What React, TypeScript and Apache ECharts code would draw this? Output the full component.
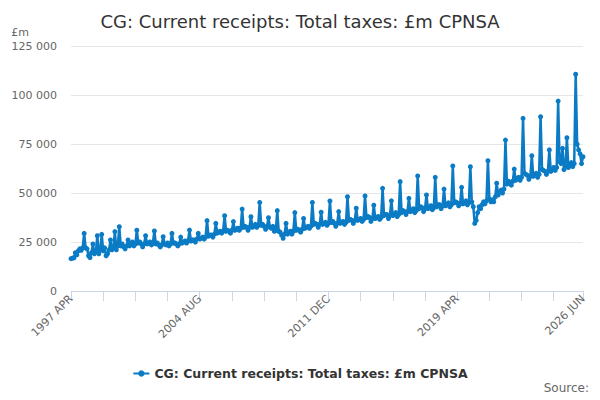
import { useEffect, useRef } from 'react';
import * as echarts from 'echarts';

// monthly series, April 1997 to June 2026 (£m, not seasonally adjusted)
const startYear = 1997;
const startMonth = 3; // APR
const monthNames = ['JAN', 'FEB', 'MAR', 'APR', 'MAY', 'JUN', 'JUL', 'AUG', 'SEP', 'OCT', 'NOV', 'DEC'];

// one row per financial year: Apr May Jun Jul Aug Sep Oct Nov Dec Jan Feb Mar (thousand £m)
const fy1997 = [16.5, 16.8, 16.9, 19.5, 18.5, 20.5, 21.5, 20.8, 22.0, 29.4, 22.0, 21.5];
const fy1998 = [18.0, 17.0, 19.5, 24.0, 19.0, 20.0, 28.2, 19.0, 21.0, 28.9, 20.5, 22.0];
const fy1999 = [18.0, 19.0, 21.0, 26.0, 21.0, 22.0, 30.3, 21.0, 23.0, 32.8, 23.0, 24.0];
const fy2000 = [22.5, 21.5, 23.0, 26.0, 23.0, 24.0, 25.0, 23.0, 24.0, 31.0, 24.5, 25.0];
const fy2001 = [24.0, 22.5, 24.0, 28.2, 24.0, 24.5, 25.0, 23.5, 24.5, 30.6, 24.0, 24.5];
const fy2002 = [23.5, 22.5, 23.5, 27.7, 24.0, 23.5, 24.5, 23.0, 24.0, 29.4, 24.5, 24.5];
const fy2003 = [24.0, 23.0, 24.0, 27.5, 24.5, 25.0, 25.5, 24.5, 25.5, 31.1, 25.5, 26.0];
const fy2004 = [26.0, 25.0, 26.5, 29.4, 26.5, 27.0, 27.5, 26.5, 27.5, 35.9, 28.0, 28.5];
const fy2005 = [28.5, 27.5, 29.0, 34.5, 29.5, 30.0, 30.5, 29.5, 30.5, 38.4, 30.5, 31.0];
const fy2006 = [30.5, 29.5, 31.0, 35.4, 31.0, 31.5, 32.0, 31.0, 32.0, 41.8, 32.5, 33.0];
const fy2007 = [32.5, 31.0, 32.5, 37.9, 32.5, 33.0, 34.0, 32.5, 33.5, 45.2, 33.5, 34.0];
const fy2008 = [33.0, 31.5, 33.0, 37.4, 32.5, 32.0, 33.0, 30.5, 31.0, 41.0, 30.5, 30.0];
const fy2009 = [28.5, 26.9, 29.0, 34.5, 29.0, 30.0, 30.5, 29.0, 30.5, 40.0, 31.0, 31.5];
const fy2010 = [31.0, 30.0, 31.5, 37.0, 32.0, 32.5, 33.0, 32.0, 33.0, 45.2, 34.0, 34.5];
const fy2011 = [34.0, 32.5, 34.0, 40.2, 34.0, 34.5, 35.0, 33.5, 34.5, 45.9, 35.0, 35.5];
const fy2012 = [34.5, 33.0, 34.5, 40.5, 34.5, 35.0, 35.5, 34.0, 35.0, 48.1, 36.0, 36.5];
const fy2013 = [36.0, 34.5, 36.0, 42.2, 36.0, 36.5, 37.0, 35.5, 36.5, 48.5, 37.5, 38.0];
const fy2014 = [37.5, 35.5, 37.0, 43.8, 37.0, 37.5, 38.0, 36.5, 37.5, 52.4, 38.5, 39.0];
const fy2015 = [39.0, 37.0, 38.5, 46.0, 38.5, 39.0, 40.0, 38.0, 39.0, 55.8, 40.0, 41.0];
const fy2016 = [40.5, 39.0, 40.5, 47.3, 40.5, 41.0, 42.0, 40.0, 41.0, 58.7, 42.0, 43.0];
const fy2017 = [42.5, 40.5, 42.0, 49.0, 42.0, 42.5, 43.5, 41.5, 42.5, 58.0, 43.0, 44.0];
const fy2018 = [44.0, 42.0, 43.5, 52.0, 43.5, 44.0, 45.0, 43.0, 44.0, 63.8, 45.0, 45.5];
const fy2019 = [45.0, 43.5, 44.5, 52.9, 44.5, 45.0, 46.0, 44.0, 45.0, 63.4, 45.5, 43.0];
const fy2020 = [34.5, 36.0, 40.0, 43.0, 42.0, 44.0, 45.5, 44.5, 46.0, 66.5, 47.0, 45.5];
const fy2021 = [46.5, 45.5, 48.0, 55.0, 49.0, 50.5, 51.5, 50.0, 52.0, 77.0, 54.5, 56.0];
const fy2022 = [55.5, 54.0, 56.0, 62.2, 56.5, 57.5, 58.0, 56.5, 58.0, 88.1, 60.0, 59.5];
const fy2023 = [59.0, 57.0, 58.5, 69.0, 58.5, 59.5, 60.0, 58.0, 59.5, 88.9, 62.0, 61.5];
const fy2024 = [61.0, 59.5, 61.0, 72.0, 61.0, 62.0, 63.0, 61.5, 63.0, 96.9, 66.0, 65.0];
const fy2025 = [72.8, 62.0, 63.5, 78.2, 63.0, 64.0, 65.5, 63.5, 65.0, 110.6, 74.9, 72.0];
const fy2026 = [70.0, 65.0, 68.5];

const years = [
    fy1997, fy1998, fy1999, fy2000, fy2001, fy2002, fy2003, fy2004, fy2005, fy2006,
    fy2007, fy2008, fy2009, fy2010, fy2011, fy2012, fy2013, fy2014, fy2015, fy2016,
    fy2017, fy2018, fy2019, fy2020, fy2021, fy2022, fy2023, fy2024, fy2025, fy2026,
];

const receipts: number[] = years.flat().map(v => Math.round(v * 1000));

const categories: string[] = receipts.map((_, i) => {
    const m = startMonth + i;
    return `${startYear + Math.floor(m / 12)} ${monthNames[m % 12]}`;
});

const lastIndex = receipts.length - 1;
const tickStep = 22;
const labelStep = 88;

const fmt = (v: number) => String(v).replace(/\B(?=(\d{3})+(?!\d))/g, ' ');

export default function App() {
    const chartRef = useRef<HTMLDivElement>(null);

    useEffect(() => {
        if (!chartRef.current) return;
        const chart = echarts.init(chartRef.current, undefined, { renderer: 'svg' });

        chart.setOption({
            animation: false,
            textStyle: { fontFamily: 'DejaVu Sans' },
            title: {
                text: 'CG: Current receipts: Total taxes: £m CPNSA',
                left: 'center',
                top: 7,
                textStyle: { fontSize: 18, fontWeight: 'normal', color: '#333333', fontFamily: 'DejaVu Sans' },
            },
            grid: { left: 71, right: 17, top: 46, bottom: 109 },
            legend: {
                bottom: 15,
                left: 'center',
                itemWidth: 16,
                itemHeight: 8,
                itemGap: 6,
                textStyle: { fontSize: 12.5, fontWeight: 'bold', color: '#333333', fontFamily: 'DejaVu Sans' },
            },
            xAxis: {
                type: 'category',
                boundaryGap: false,
                data: categories,
                axisLine: { lineStyle: { color: '#ccd6eb' } },
                axisTick: {
                    length: 10,
                    lineStyle: { color: '#ccd6eb' },
                    interval: (i: number) => i % tickStep === 0 || i === lastIndex,
                },
                axisLabel: {
                    rotate: 45,
                    color: '#666666',
                    fontSize: 11,
                    margin: 6,
                    interval: (i: number) => i % labelStep === 0 || i === lastIndex,
                },
                splitLine: { show: false },
            },
            yAxis: {
                type: 'value',
                min: 0,
                max: 125000,
                interval: 25000,
                name: '£m',
                nameLocation: 'end',
                nameGap: 8,
                nameTextStyle: { color: '#666666', fontSize: 11, align: 'right', padding: [0, 42, 0, 0] },
                axisLine: { show: false },
                axisTick: { show: false },
                axisLabel: { color: '#666666', fontSize: 11, margin: 14, formatter: (v: number) => fmt(v) },
                splitLine: { lineStyle: { color: '#e6e6e6' } },
            },
            series: [
                {
                    name: 'CG: Current receipts: Total taxes: £m CPNSA',
                    type: 'line',
                    data: receipts,
                    symbol: 'circle',
                    symbolSize: 5,
                    showAllSymbol: true,
                    lineStyle: { width: 2.5, color: '#0a7bc4' },
                    itemStyle: { color: '#0a7bc4' },
                },
            ],
            graphic: [
                {
                    type: 'text',
                    right: 11,
                    top: 382,
                    style: { text: 'Source:', fill: '#666666', fontSize: 12, fontFamily: 'DejaVu Sans' },
                },
            ],
        });

        return () => chart.dispose();
    }, []);

    return <div ref={chartRef} style={{ width: 600, height: 400, margin: -8 }} />;
}
